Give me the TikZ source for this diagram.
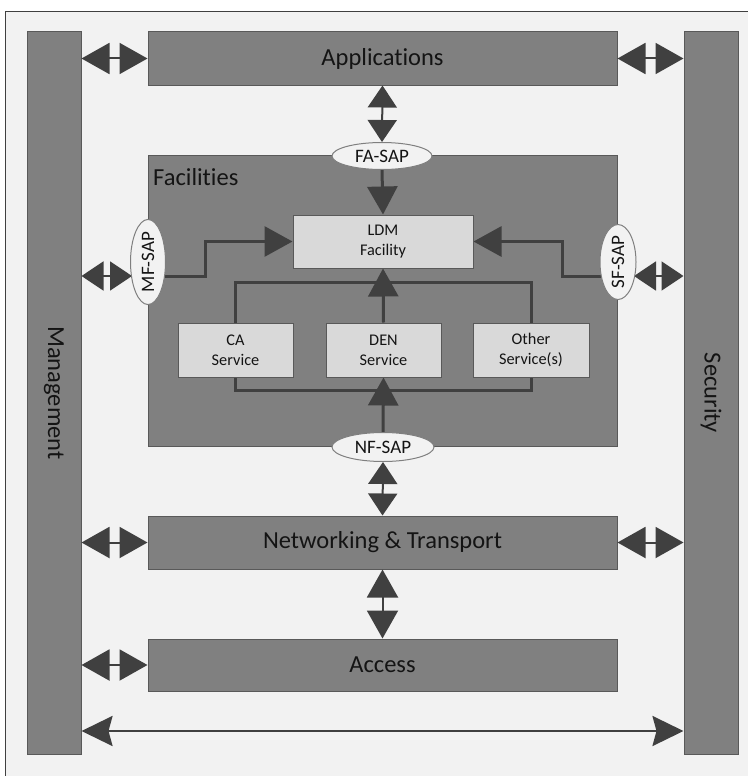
\documentclass[tikz,border=0pt]{standalone}
\usepackage{fontspec}
\setmainfont{Carlito}[Ligatures=NoCommon]
\usetikzlibrary{arrows.meta,shapes.geometric,calc}
\pgfdeclarelayer{bg}\pgfdeclarelayer{mid}\pgfsetlayers{bg,mid,main}
\definecolor{framebg}{HTML}{F2F2F2}
\definecolor{frameline}{HTML}{404040}
\definecolor{layerfill}{HTML}{808080}
\definecolor{layerline}{HTML}{595959}
\definecolor{innerfill}{HTML}{D9D9D9}
\definecolor{arrowc}{HTML}{404040}
\definecolor{sapline}{HTML}{7F7F7F}
\definecolor{txt}{HTML}{141414}
\newcommand{\bigfont}{\fontsize{24.5}{28}\selectfont}
\newcommand{\smallfont}{\fontsize{16.3}{20}\selectfont}
\newcommand{\sapfont}{\fontsize{19}{22}\selectfont}
\begin{document}
\begin{tikzpicture}[x=1pt,y=-1pt,
  every node/.style={text=txt},
  layerbox/.style={draw=layerline,fill=layerfill,line width=1pt,inner sep=0pt,font=\bigfont},
  innerbox/.style={draw=layerline,fill=innerfill,line width=1pt,inner sep=0pt,font=\smallfont,align=center},
  sap/.style={ellipse,draw=sapline,fill=framebg,line width=1pt,inner sep=0pt,font=\sapfont},
  conn/.style={draw=arrowc,line width=3pt},
  tipped/.style={conn,-{Triangle[length=28pt,width=30pt]},arrowc},
  dblarrow/.style={draw=arrowc,line width=2pt,{Triangle[length=28pt,width=31pt]}-{Triangle[length=28pt,width=31pt]},arrowc},
  dblshort/.style={draw=arrowc,line width=2pt,{Triangle[length=22pt,width=29pt]}-{Triangle[length=22pt,width=29pt]},arrowc},
  longarrow/.style={draw=arrowc,line width=2.5pt,{Stealth[length=31pt,width=30pt,inset=4pt]}-{Stealth[length=31pt,width=30pt,inset=4pt]},arrowc}
]
\useasboundingbox (0,0) rectangle (747,776);
\begin{pgfonlayer}{bg}
\draw[draw=frameline,fill=framebg,line width=1pt] (5,12) rectangle (770,800);
\node[layerbox,minimum width=54pt,minimum height=722pt] (mgmt) at (54,393) {};
\node[layerbox,minimum width=54pt,minimum height=722pt] (sec) at (711,393) {};
\node[layerbox,minimum width=469pt,minimum height=53pt] (app) at (382.5,58.5) {Applications};
\node[layerbox,minimum width=469pt,minimum height=291pt] (fac) at (382.5,300.5) {};
\node[layerbox,minimum width=469pt,minimum height=53pt] (net) at (382.5,542.5) {Networking \& Transport};
\node[layerbox,minimum width=469pt,minimum height=52pt] (acc) at (382.5,665) {Access};
\end{pgfonlayer}
\node[rotate=-90,font=\bigfont,inner sep=0pt] (mgmtlbl) at (mgmt.center) {Management};
\node[rotate=-90,font=\bigfont,inner sep=0pt] (seclbl) at (sec.center) {Security};
\node[anchor=west,font=\bigfont,inner sep=0pt] (faclbl) at (153,177) {Facilities};
\node[innerbox,minimum width=180pt,minimum height=53pt] (ldm) at (383,241.5) {LDM\\Facility};
\node[innerbox,minimum width=115pt,minimum height=54pt] (ca) at (235.5,350) {CA\\Service};
\node[innerbox,minimum width=115pt,minimum height=54pt] (den) at (383.5,350) {DEN\\Service};
\node[innerbox,minimum width=116pt,minimum height=54pt] (other) at (531,350) {Other\\Service(s)};
\node[sap,minimum width=100pt,minimum height=27pt] (fa) at (382,156) {FA-SAP};
\node[sap,minimum width=102pt,minimum height=29pt] (nf) at (383,447) {NF-SAP};
\node[sap,rotate=90,minimum width=75pt,minimum height=35pt] (mf) at (148,262) {MF-SAP};
\node[sap,rotate=90,minimum width=75pt,minimum height=36pt] (sf) at (618,262) {SF-SAP};
\coordinate (mfL) at ($(mf.center)+(-16,14)$);
\coordinate (mfR) at ($(mf.center)+(16,14)$);
\coordinate (sfL) at ($(sf.center)+(-16,14)$);
\coordinate (sfR) at ($(sf.center)+(16,14)$);
\begin{pgfonlayer}{mid}
% side double arrows
\draw[dblarrow] (mgmt.east |- app.west) -- (app.west);
\draw[dblarrow] (app.east) -- (sec.west |- app.east);
\draw[dblshort] (mgmt.east |- mfL) -- (mfL);
\draw[dblshort] (sfR) -- (sec.west |- sfR);
\draw[dblarrow] (mgmt.east |- net.west) -- (net.west);
\draw[dblarrow] (net.east) -- (sec.west |- net.east);
\draw[dblarrow] (mgmt.east |- acc.west) -- (acc.west);
\draw[longarrow] (mgmt.east |- 0,731) -- (sec.west |- 0,731);
% vertical double arrows
\draw[dblshort] (app.south) -- (fa.north);
\draw[dblshort] (nf.south) -- (net.north);
\draw[dblarrow] (net.south) -- (acc.north);
% facilities internals
\draw[tipped] (fa.south) -- (ldm.north);
\draw[tipped] (mfR) -- ++(41,0) |- (ldm.west);
\draw[tipped] (sfL) -- ++(-40,0) |- (ldm.east);
\draw[conn] (ca.north) -- ++(0,-40) -| (other.north);
\draw[tipped] (den.north) -- (ldm.south);
\draw[conn] (ca.south) -- ++(0,13) -| (other.south);
\draw[tipped] (nf.north) -- (den.south);
\end{pgfonlayer}
\end{tikzpicture}
\end{document}
